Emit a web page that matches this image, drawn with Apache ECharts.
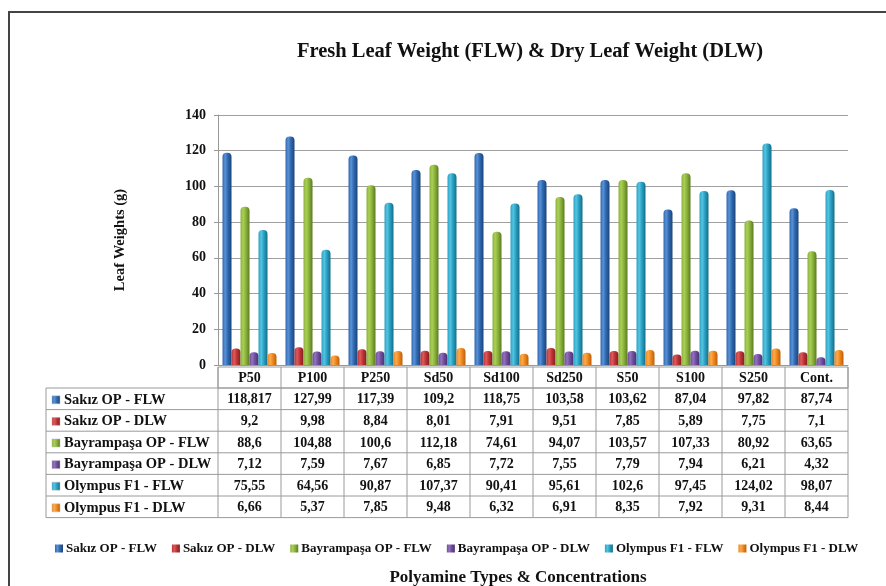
<!DOCTYPE html>
<html>
<head>
<meta charset="utf-8">
<style>
  html, body { margin: 0; padding: 0; background: #fff; }
  #chart { width: 886px; height: 586px; }
</style>
<script src="https://cdn.jsdelivr.net/npm/echarts@6/dist/echarts.min.js"></script>
</head>
<body>
<div id="chart"></div>
<script>
// data
const categories = ['P50', 'P100', 'P250', 'Sd50', 'Sd100', 'Sd250', 'S50', 'S100', 'S250', 'Cont.']
const seriesNames = [
    'Sakız OP - FLW', 'Sakız OP - DLW',
    'Bayrampaşa OP - FLW', 'Bayrampaşa OP - DLW',
    'Olympus F1 - FLW', 'Olympus F1 - DLW'
]
const sakizFLW = [118.817, 127.99, 117.39, 109.2, 118.75, 103.58, 103.62, 87.04, 97.82, 87.74]
const sakizDLW = [9.2, 9.98, 8.84, 8.01, 7.91, 9.51, 7.85, 5.89, 7.75, 7.1]
const bayFLW = [88.6, 104.88, 100.6, 112.18, 74.61, 94.07, 103.57, 107.33, 80.92, 63.65]
const bayDLW = [7.12, 7.59, 7.67, 6.85, 7.72, 7.55, 7.79, 7.94, 6.21, 4.32]
const olyFLW = [75.55, 64.56, 90.87, 107.37, 90.41, 95.61, 102.6, 97.45, 124.02, 98.07]
const olyDLW = [6.66, 5.37, 7.85, 9.48, 6.32, 6.91, 8.35, 7.92, 9.31, 8.44]
const yTicks = [0, 20, 40, 60, 80, 100, 120, 140]

const allValues = [sakizFLW, sakizDLW, bayFLW, bayDLW, olyFLW, olyDLW]

// colours: [light, mid, dark]
const palette = [
    ['#5a92d6', '#2f67b0', '#1c4478'],
    ['#dd5a5c', '#bb3335', '#821f21'],
    ['#a9cf57', '#8ab13b', '#5b7a20'],
    ['#9272bd', '#6f4d9c', '#4a316f'],
    ['#55c4e0', '#28a0c2', '#146d87'],
    ['#fbab4d', '#ef861d', '#b9600b']
]

const FONT = '"Liberation Serif", "DejaVu Serif", serif'
const G = { left: 218, top: 115, width: 630, height: 250 }

const grad = (c) => new echarts.graphic.LinearGradient(0, 0, 1, 0, [
    { offset: 0, color: c[1] },
    { offset: 0.3, color: c[0] },
    { offset: 0.6, color: c[1] },
    { offset: 1, color: c[2] }
])

const fmt = (v) => String(v).replace('.', ',')

const chart = echarts.init(document.getElementById('chart'))

const buildTable = () => {
    const els = []
    const colW = G.width / categories.length
    const headTop = G.top + G.height + 2
    const headH = 21
    const rowH = 21.6
    const labelLeft = 46
    const bodyTop = headTop + headH
    const right = G.left + G.width
    const line = { stroke: '#9a9a9a', lineWidth: 1 }

    // header row
    els.push({ type: 'rect', shape: { x: G.left, y: headTop, width: G.width, height: headH }, style: { fill: 'none', ...line } })
    // body outline + horizontal lines
    for (let r = 0; r <= seriesNames.length; r++) {
        const y = bodyTop + r * rowH
        els.push({ type: 'line', shape: { x1: labelLeft, y1: y, x2: right, y2: y }, style: line })
    }
    els.push({ type: 'line', shape: { x1: labelLeft, y1: bodyTop, x2: labelLeft, y2: bodyTop + rowH * seriesNames.length }, style: line })
    for (let c = 0; c <= categories.length; c++) {
        const x = G.left + c * colW
        els.push({ type: 'line', shape: { x1: x, y1: headTop, x2: x, y2: bodyTop + rowH * seriesNames.length }, style: line })
    }
    categories.forEach((cat, c) => {
        els.push({
            type: 'text', x: G.left + (c + 0.5) * colW, y: headTop + headH / 2 + 1,
            style: { text: cat, font: 'bold 14px ' + FONT, fill: '#111', align: 'center', verticalAlign: 'middle' }
        })
    })
    seriesNames.forEach((name, r) => {
        const cy = bodyTop + (r + 0.5) * rowH + 1
        els.push({
            type: 'rect', shape: { x: labelLeft + 6, y: cy - 4, width: 8, height: 8 },
            style: { fill: grad(palette[r]), stroke: '#bbb', lineWidth: 0.5 }
        })
        els.push({
            type: 'text', x: labelLeft + 18, y: cy,
            style: { text: name, font: 'bold 14.5px ' + FONT, fill: '#111', align: 'left', verticalAlign: 'middle' }
        })
        allValues[r].forEach((v, c) => {
            els.push({
                type: 'text', x: G.left + (c + 0.5) * colW, y: cy,
                style: { text: fmt(v), font: 'bold 14px ' + FONT, fill: '#111', align: 'center', verticalAlign: 'middle' }
            })
        })
    })
    // outer frame
    els.push({ type: 'rect', shape: { x: 9, y: 12, width: 900, height: 600 }, style: { fill: 'none', stroke: '#444', lineWidth: 2 } })
    return els
}

chart.setOption({
    backgroundColor: '#fff',
    animation: false,
    color: palette.map(p => p[1]),
    title: {
        text: 'Fresh Leaf Weight (FLW) & Dry Leaf Weight (DLW)',
        left: 525, top: 36, textAlign: 'center',
        textStyle: { fontFamily: FONT, fontSize: 20.5, fontWeight: 'bold', color: '#111' }
    },
    legend: {
        data: seriesNames,
        left: 50, top: 537,
        itemWidth: 8, itemHeight: 8, itemGap: 15,
        icon: 'rect',
        textStyle: { fontFamily: FONT, fontSize: 13, fontWeight: 'bold', color: '#111', padding: [0, 0, 0, -2] }
    },
    grid: { left: G.left, top: G.top, width: G.width, height: G.height, outerBoundsMode: 'none' },
    xAxis: {
        type: 'category',
        data: categories,
        name: 'Polyamine Types & Concentrations',
        nameLocation: 'middle',
        nameGap: 204,
        nameTextStyle: { fontFamily: FONT, fontSize: 17, fontWeight: 'bold', color: '#111', padding: [0, 30, 0, 0] },
        axisLine: { lineStyle: { color: '#999' } },
        axisTick: { show: false },
        axisLabel: { show: false }
    },
    yAxis: {
        type: 'value',
        min: 0, max: 140, interval: 20,
        name: 'Leaf Weights (g)',
        nameLocation: 'middle',
        nameGap: 90,
        nameTextStyle: { fontFamily: FONT, fontSize: 14.5, fontWeight: 'bold', color: '#111' },
        axisLine: { show: true, lineStyle: { color: '#999' } },
        axisTick: { show: true, length: 4, lineStyle: { color: '#999' } },
        axisLabel: {
            fontFamily: FONT, fontSize: 14, fontWeight: 'bold', color: '#111', margin: 12,
            formatter: (v) => yTicks.includes(v) ? String(v) : ''
        },
        splitLine: { lineStyle: { color: '#a0a0a0', width: 1.2 } }
    },
    series: seriesNames.map((name, i) => ({
        name,
        type: 'bar',
        data: allValues[i],
        barWidth: 9,
        barGap: '0%',
        itemStyle: { color: grad(palette[i]), borderRadius: [4, 4, 0, 0] }
    })),
    graphic: buildTable()
})
</script>
</body>
</html>
